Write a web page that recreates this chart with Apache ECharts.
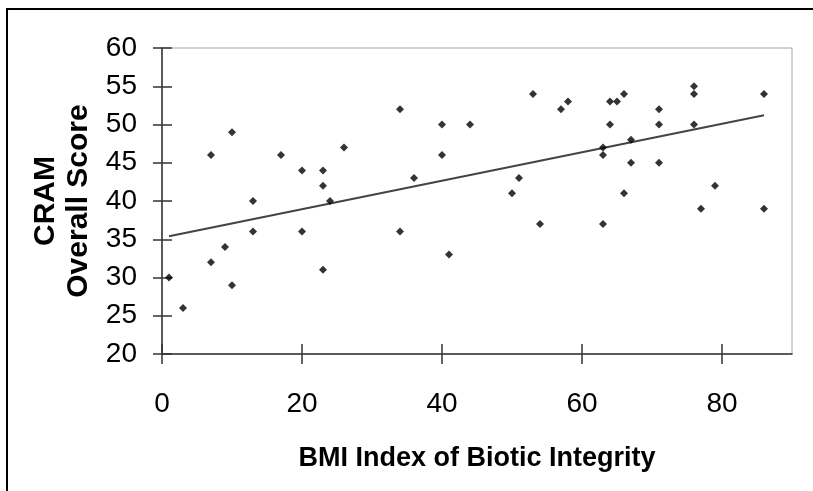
<!DOCTYPE html>
<html>
<head>
<meta charset="utf-8">
<script src="https://cdn.jsdelivr.net/npm/echarts@6/dist/echarts.min.js"></script>
<style>
  html, body { margin: 0; padding: 0; background: #fff; }
  #chart { width: 813px; height: 491px; }
</style>
</head>
<body>
<div id="chart"></div>
<script>
var dom = document.getElementById('chart');
var myChart = echarts.init(dom, null, { renderer: 'canvas' });

// BMI index (x) and CRAM score (y) for each site
const bmiValues = [1, 3, 7, 7, 9, 10, 10, 13, 13, 17, 20, 20, 23, 23, 23, 24, 26, 34, 34, 36,
  40, 40, 41, 44, 50, 51, 53, 54, 57, 58, 63, 63, 63, 64, 64, 65, 66, 66, 67, 67,
  71, 71, 71, 76, 76, 76, 77, 79, 86, 86];
const cramValues = [30, 26, 46, 32, 34, 49, 29, 40, 36, 46, 44, 36, 44, 42, 31, 40, 47, 52, 36, 43,
  50, 46, 33, 50, 41, 43, 54, 37, 52, 53, 47, 46, 37, 53, 50, 53, 54, 41, 48, 45,
  52, 50, 45, 55, 54, 50, 39, 42, 54, 39];
// trend line end points
const trendX = [1, 86];
const trendY = [35.4, 51.2];
const xTicks = [0, 20, 40, 60, 80];
const yTicks = [20, 25, 30, 35, 40, 45, 50, 55, 60];

var points = bmiValues.map(function (x, i) { return [x, cramValues[i]]; });
var trend = trendX.map(function (x, i) { return [x, trendY[i]]; });

const font = 'Liberation Sans, Arial, sans-serif';
const axisColor = '#333';

var option = {
  animation: false,
  backgroundColor: '#fff',
  grid: {
    left: 162, right: 21, top: 48, bottom: 137,
    show: true, borderColor: '#a6a6a6', borderWidth: 1, backgroundColor: 'transparent'
  },
  graphic: [{
    type: 'polyline',
    shape: { points: [[7, 491], [7, 9], [813, 9]] },
    style: { stroke: '#000', lineWidth: 2, fill: null }
  }],
  xAxis: [
    {
      type: 'value', min: 0, max: 90,
      axisLine: { show: true, onZero: false, lineStyle: { color: axisColor, width: 1.5 } },
      axisTick: { show: true, length: 10, customValues: xTicks, lineStyle: { color: axisColor, width: 1.5 } },
      axisLabel: { customValues: xTicks, margin: 36, fontSize: 28, color: '#000', fontFamily: font },
      splitLine: { show: false },
      name: 'BMI Index of Biotic Integrity',
      nameLocation: 'middle',
      nameGap: 91,
      nameTextStyle: { fontSize: 27, fontWeight: 'bold', color: '#000', fontFamily: font }
    },
    {
      type: 'value', min: 0, max: 90, position: 'bottom',
      axisLine: { show: false },
      axisTick: { show: true, inside: true, length: 10, customValues: xTicks, lineStyle: { color: axisColor, width: 1.5 } },
      axisLabel: { show: false },
      splitLine: { show: false }
    }
  ],
  yAxis: [
    {
      type: 'value', min: 20, max: 60, interval: 5,
      axisLine: { show: true, onZero: false, lineStyle: { color: axisColor, width: 1.5 } },
      axisTick: { show: true, length: 9, customValues: yTicks, lineStyle: { color: axisColor, width: 1.5 } },
      axisLabel: { customValues: yTicks, margin: 25, fontSize: 28, color: '#000', fontFamily: font },
      splitLine: { show: false },
      name: 'CRAM\nOverall Score',
      nameLocation: 'middle',
      nameRotate: 90,
      nameGap: 61,
      nameTextStyle: { fontSize: 30, fontWeight: 'bold', lineHeight: 33, color: '#000', fontFamily: font, align: 'center' }
    },
    {
      type: 'value', min: 20, max: 60, interval: 5, position: 'left',
      axisLine: { show: false },
      axisTick: { show: true, inside: true, length: 10, customValues: yTicks, lineStyle: { color: axisColor, width: 1.5 } },
      axisLabel: { show: false },
      splitLine: { show: false }
    }
  ],
  series: [
    {
      name: 'Trend',
      type: 'line',
      data: trend,
      showSymbol: false,
      lineStyle: { color: '#444', width: 2 },
      z: 2
    },
    {
      name: 'Sites',
      type: 'scatter',
      data: points,
      symbol: 'diamond',
      symbolSize: 8,
      itemStyle: { color: '#000' },
      z: 3
    }
  ]
};

myChart.setOption(option);
window.addEventListener('resize', myChart.resize);
</script>
</body>
</html>
